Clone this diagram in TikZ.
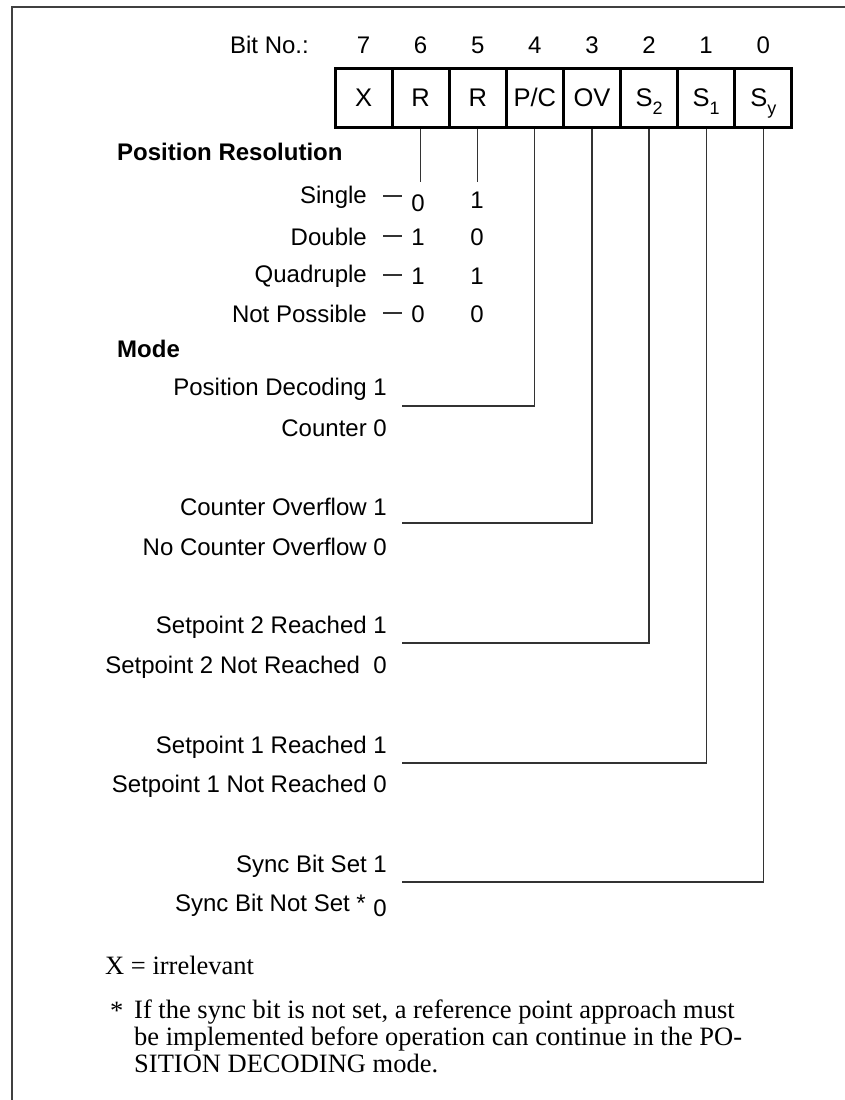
\documentclass[tikz,border=0pt]{standalone}
\usepackage{fontspec}
\setmainfont{Liberation Sans}
\newfontfamily\serifff{Liberation Serif}
\newcommand{\subsc}[1]{\raisebox{-0.3em}{\fontsize{18}{18}\selectfont #1}}
\begin{document}
\begin{tikzpicture}[x=1pt,y=-1pt,
  txt/.style={font=\fontsize{24}{28}\selectfont, inner sep=0pt},
  lbl/.style={txt, anchor=east},
  hdr/.style={font=\fontsize{24}{28}\selectfont\bfseries, inner sep=0pt, anchor=west},
  cell/.style={draw=black, line width=3pt, minimum width=57pt, minimum height=59pt,
    inner sep=0pt, text height=18pt, text depth=0pt, font=\fontsize{25.5}{28}\selectfont},
  leader/.style={draw=black!80, line width=1.2pt},
  frame/.style={draw=black!75, line width=1.5pt},
  note/.style={inner sep=0pt, font=\serifff\fontsize{26.5}{27}\selectfont}]
\useasboundingbox (0,0) rectangle (845,1100);
% frame
\draw[frame] (845,7) -- (12,7) -- (12,1100);

% bit numbers
\node[lbl] (bitno) at (309,45) {Bit No.:};
\foreach \i/\n in {0/7,1/6,2/5,3/4,4/3,5/2,6/1,7/0}{
  \node[txt] (b\n) at ({335+57.1*(\i+0.5)},45) {\n};
}
% register cells
\node[cell] (c7) at ({335+57.1*0.5},97.5) {X};
\node[cell] (c6) at ({335+57.1*1.5},97.5) {R};
\node[cell] (c5) at ({335+57.1*2.5},97.5) {R};
\node[cell] (c4) at ({335+57.1*3.5},97.5) {P/C};
\node[cell] (c3) at ({335+57.1*4.5},97.5) {OV};
\node[cell] (c2) at ({335+57.1*5.5},97.5) {S\subsc{2}};
\node[cell] (c1) at ({335+57.1*6.5},97.5) {S\subsc{1}};
\node[cell] (c0) at ({335+57.1*7.5},97.5) {S\subsc{y}};

% position resolution
\node[hdr] (posres) at (117,152) {Position Resolution};
\node[lbl] (single) at (367,197) {Single};
\node[lbl] (double) at (367,237) {Double};
\node[lbl] (quad) at (367,276) {Quadruple};
\node[lbl] (notposs) at (367,314) {Not Possible};
\foreach \r/\y/\a/\b/\dy in {single/197/0/1/6, double/237/1/0/0, quad/276/1/1/0, notposs/314/0/0/0}{
  \draw[leader] (383,\y-1) -- (402,\y-1);
  \node[txt] (\r-a) at (418,\y+\dy) {\a};
  \node[txt] (\r-b) at (477,\y+\dy*0.6) {\b};
}
\coordinate (r6end) at (c6.south |- 0,182);
\coordinate (r5end) at (c5.south |- 0,182);
\draw[leader] (c6.south) -- (r6end);
\draw[leader] (c5.south) -- (r5end);

% mode
\node[hdr] (mode) at (117,349) {Mode};
\node[lbl] (pd) at (387,389) {Position Decoding 1};
\node[lbl] (cnt) at (387,428) {Counter 0};
\node[lbl] (co) at (387,507) {Counter Overflow 1};
\node[lbl] (nco) at (387,547) {No Counter Overflow 0};
\node[lbl] (sp2) at (387,627) {Setpoint 2 Reached 1};
\node[lbl] (nsp2) at (387,667) {Setpoint 2 Not Reached\ \ 0};
\node[lbl] (sp1) at (387,747) {Setpoint 1 Reached 1};
\node[lbl] (nsp1) at (387,786) {Setpoint 1 Not Reached 0};
\node[lbl] (sync) at (387,866) {Sync Bit Set 1};
\node[lbl] (nsync) at (366,905) {Sync Bit Not Set *};
\node[lbl] (nsync0) at (387,908) {0};

\coordinate (l4) at (402,406);
\coordinate (l3) at (402,523);
\coordinate (l2) at (402,643);
\coordinate (l1) at (402,763);
\coordinate (l0) at (402,882);
\draw[leader] (l4) -| (c4.south);
\draw[leader] (l3) -| (c3.south);
\draw[leader] (l2) -| (c2.south);
\draw[leader] (l1) -| (c1.south);
\draw[leader] (l0) -| (c0.south);

% notes
\node[note, anchor=west] (xnote) at (105,965) {X = irrelevant};
\node[note, anchor=base west] (star) at (110,1019) {*};
\node[note, anchor=north west, align=left] (fn) at (134,1000)
  {If the sync bit is not set, a reference point approach must\\
   be implemented before operation can continue in the PO-\\
   SITION DECODING mode.};
\end{tikzpicture}
\end{document}
